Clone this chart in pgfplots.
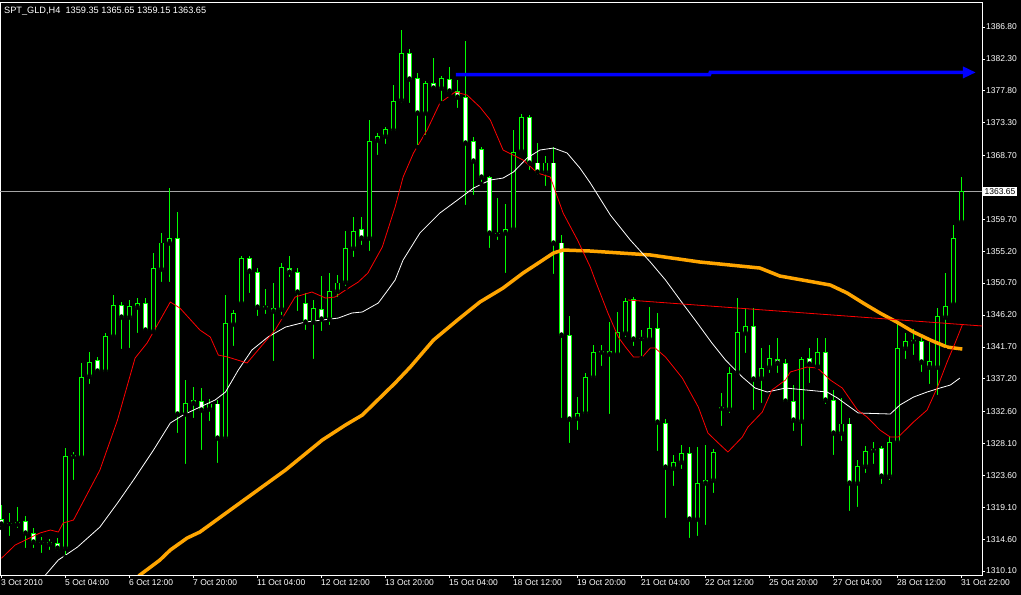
\documentclass[border=0pt]{standalone}
\usepackage{fontspec}
\setmainfont{Liberation Sans}
\usepackage{pgfplots}
\pgfplotsset{compat=1.18}
\usepackage{pgfplotstable}
\usetikzlibrary{arrows.meta}

\definecolor{mtgreen}{RGB}{0,255,0}
\definecolor{mtorange}{RGB}{255,165,0}
\definecolor{mtgray}{RGB}{165,165,165}

% H4 bars: index, open, high, low, close
\pgfplotstableread{
k o h l c
0 1317.43 1319.40 1316.16 1316.73
1 1316.87 1318.28 1314.75 1316.80
2 1317.01 1319.12 1315.88 1316.73
3 1317.15 1317.85 1313.06 1315.46
4 1315.46 1316.16 1313.06 1314.19
5 1314.19 1314.89 1312.35 1314.19
6 1314.19 1314.61 1312.78 1313.91
7 1314.05 1314.75 1312.64 1313.34
8 1313.34 1327.44 1312.07 1326.31
9 1326.31 1326.88 1322.65 1326.40
10 1326.17 1339.43 1326.10 1337.45
11 1337.59 1340.98 1336.18 1339.57
12 1339.85 1340.27 1338.16 1338.30
13 1338.30 1343.66 1338.02 1343.23
14 1343.23 1349.01 1343.09 1347.60
15 1347.60 1348.03 1341.12 1345.91
16 1345.91 1348.31 1341.26 1347.46
17 1347.32 1348.59 1343.37 1347.89
18 1347.89 1348.59 1343.94 1344.08
19 1343.94 1354.94 1343.80 1352.82
20 1352.68 1357.76 1350.57 1356.35
21 1356.35 1364.10 1350.57 1357.05
22 1357.05 1360.72 1329.27 1332.24
23 1332.24 1337.03 1324.90 1333.79
24 1333.79 1336.04 1331.39 1334.21
25 1334.07 1335.90 1326.88 1332.80
26 1332.94 1334.35 1330.97 1333.65
27 1333.65 1334.21 1325.04 1328.85
28 1328.85 1349.01 1328.29 1344.93
29 1344.93 1346.90 1341.54 1346.34
30 1347.89 1354.51 1347.70 1354.23
31 1354.23 1354.51 1349.01 1352.40
32 1352.26 1352.82 1345.77 1347.32
33 1347.32 1349.86 1346.05 1347.40
34 1347.18 1350.71 1339.43 1346.76
35 1347.04 1353.53 1345.91 1352.96
36 1352.82 1354.51 1351.27 1352.26
37 1352.26 1352.82 1346.48 1349.44
38 1347.89 1349.30 1343.80 1345.21
39 1345.21 1348.31 1339.71 1347.18
40 1347.04 1351.69 1343.66 1345.63
41 1345.63 1352.12 1344.50 1349.58
42 1349.58 1351.83 1348.45 1350.71
43 1350.85 1358.04 1350.00 1355.64
44 1355.64 1360.01 1354.09 1358.04
45 1358.32 1360.01 1355.78 1357.05
46 1357.05 1373.69 1354.94 1370.73
47 1370.87 1371.86 1368.47 1371.43
48 1371.43 1372.70 1370.02 1372.42
49 1372.28 1378.62 1371.86 1376.37
50 1376.51 1386.38 1375.80 1383.00
51 1383.00 1383.70 1375.80 1379.47
52 1379.61 1380.32 1369.88 1374.68
53 1374.68 1379.19 1371.29 1378.77
54 1378.77 1382.43 1378.10 1378.20
55 1378.20 1379.89 1376.09 1379.61
56 1379.47 1381.16 1377.21 1377.78
57 1377.78 1379.33 1375.10 1376.93
58 1376.93 1384.83 1361.42 1370.45
59 1370.73 1371.29 1362.83 1367.91
60 1369.60 1369.88 1364.67 1365.65
61 1365.65 1365.79 1355.36 1357.76
62 1357.62 1362.69 1356.49 1357.70
63 1357.76 1361.85 1351.83 1358.32
64 1358.32 1372.28 1357.76 1369.18
65 1369.32 1374.54 1369.18 1374.11
66 1374.11 1374.39 1366.36 1367.63
67 1367.63 1370.45 1365.65 1366.36
68 1366.36 1368.61 1364.10 1367.63
69 1367.63 1369.88 1351.69 1356.35
70 1356.35 1357.47 1331.39 1343.37
71 1343.37 1346.05 1327.86 1331.53
72 1331.67 1334.63 1329.70 1332.38
73 1332.38 1338.02 1331.81 1337.45
74 1337.45 1341.96 1336.89 1340.98
75 1340.98 1341.96 1338.72 1341.05
76 1341.12 1345.21 1331.95 1340.70
77 1340.70 1346.62 1340.55 1343.80
78 1343.66 1348.59 1342.81 1348.17
79 1348.45 1348.73 1341.54 1342.81
80 1342.95 1344.08 1340.13 1342.90
81 1342.81 1347.32 1342.67 1344.36
82 1344.36 1346.48 1326.74 1331.11
83 1330.97 1331.53 1317.29 1324.76
84 1324.62 1326.45 1321.80 1325.47
85 1325.47 1327.86 1324.20 1326.74
86 1326.74 1327.58 1314.47 1317.43
87 1317.43 1327.58 1314.75 1322.51
88 1322.51 1327.86 1316.30 1322.93
89 1322.93 1327.30 1320.81 1326.88
90 1333.08 1335.20 1330.26 1333.10
91 1332.94 1338.86 1332.09 1338.02
92 1338.16 1348.59 1337.73 1343.80
93 1343.66 1347.18 1340.55 1344.64
94 1344.64 1347.18 1332.52 1337.17
95 1337.31 1341.54 1333.50 1338.72
96 1338.86 1341.96 1337.73 1340.13
97 1339.99 1342.95 1337.73 1339.43
98 1339.43 1339.99 1333.79 1334.07
99 1334.07 1336.32 1329.56 1331.39
100 1331.25 1340.27 1327.44 1339.99
101 1340.13 1341.54 1336.32 1339.29
102 1339.00 1342.95 1338.86 1340.98
103 1340.98 1342.95 1333.36 1334.21
104 1334.21 1335.62 1326.17 1329.56
105 1329.56 1334.49 1328.15 1330.83
106 1330.83 1331.67 1318.28 1322.51
107 1322.51 1325.75 1318.84 1324.90
108 1324.90 1327.72 1323.63 1327.02
109 1327.16 1328.29 1324.90 1327.20
110 1327.44 1327.72 1322.08 1323.49
111 1323.49 1329.13 1322.65 1328.29
112 1328.29 1345.21 1328.15 1341.54
113 1341.54 1343.66 1339.71 1342.53
114 1342.53 1344.22 1340.27 1342.56
115 1342.53 1342.95 1337.88 1339.57
116 1338.86 1342.39 1336.18 1339.71
117 1338.86 1347.18 1334.63 1346.05
118 1345.91 1352.12 1341.26 1347.46
119 1347.75 1358.88 1347.32 1357.05
120 1359.35 1365.65 1359.15 1363.65
}\bars

\begin{document}
\begin{tikzpicture}
\useasboundingbox (0,0) rectangle (1021bp,595bp);
\fill[black] (0,0) rectangle (1021bp,595bp);
\begin{axis}[
  at={(0,20bp)}, anchor=south west,
  width=982bp, height=573bp, scale only axis,
  xmin=-0.1875, xmax=122.5625,
  ymin=1309.54, ymax=1390.33,
  axis line style={white, line width=0.8bp},
  tick style={white, line width=0.8bp},
  tick align=outside, major tick length=3bp,
  ytick pos=right, yticklabel pos=right,
  xtick pos=bottom,
  /pgf/number format/fixed, /pgf/number format/fixed zerofill,
  /pgf/number format/precision=2, /pgf/number format/1000 sep={},
  /pgf/number format/assume math mode=true,
  ytick={1310.10,1314.60,1319.10,1323.60,1328.10,1332.60,1337.20,1341.70,1346.20,1350.70,1355.20,1359.70,1368.70,1373.30,1377.80,1382.30,1386.80},
  yticklabel style={text=white, font=\fontsize{8.5bp}{10bp}\selectfont,
    anchor=west, inner sep=1bp},
  extra y ticks={1363.65},
  extra y tick style={major tick length=0pt,
    yticklabel style={fill=white, text=black, inner sep=1.5bp, xshift=1bp}},
  xtick={0,8,...,120},
  xticklabels={3 Oct 2010,5 Oct 04:00,6 Oct 12:00,7 Oct 20:00,11 Oct 04:00,12 Oct 12:00,13 Oct 20:00,15 Oct 04:00,18 Oct 12:00,19 Oct 20:00,21 Oct 04:00,22 Oct 12:00,25 Oct 20:00,27 Oct 04:00,28 Oct 12:00,31 Oct 22:00},
  xticklabel style={text=white, font=\fontsize{8.5bp}{10bp}\selectfont,
    anchor=north west, xshift=-2bp, inner sep=1.5bp},
  % one segment per bar: drawn upward from y by the error value
  candle/.style 2 args={only marks, mark=none, forget plot,
    error bars/.cd, y dir=plus, y explicit, error mark=none,
    error bar style={line width=#1, color=#2}},
]
% last price line
\addplot[mtgray, line width=0.8bp] coordinates {(-1,1363.65) (124,1363.65)};

% wicks
\addplot[candle={1bp}{mtgreen}]
  table[x=k, y=l, y error expr={\thisrow{h}-\thisrow{l}}] {\bars};
% body outlines
\addplot[candle={5bp}{mtgreen}]
  table[x=k, y expr={min(\thisrow{o},\thisrow{c})-0.07}, y error expr={abs(\thisrow{c}-\thisrow{o})+0.14}] {\bars};
% bear bodies (white)
\addplot[candle={3bp}{white}]
  table[x=k, y expr={\thisrow{o}-\thisrow{c} > 0.15 ? \thisrow{c}+0.07 : nan},
    y error expr={abs(\thisrow{o}-\thisrow{c})-0.14}] {\bars};
% bull bodies (black)
\addplot[candle={3bp}{black}]
  table[x=k, y expr={\thisrow{c}-\thisrow{o} > 0.15 ? \thisrow{o}+0.07 : nan},
    y error expr={abs(\thisrow{c}-\thisrow{o})-0.14}] {\bars};

% slow MA
\addplot[mtorange, line width=3.5bp] coordinates {
(15.5,1307.5) (17.3,1309.54) (19.8,1311.65) (21.1,1313.06) (23.2,1314.75) (24.8,1315.60) (29.8,1319.69)
(35.5,1324.34) (40.1,1328.57) (43.0,1330.69) (45.1,1332.09) (49.2,1336.61) (51.1,1338.86) (54.0,1342.67)
(57.0,1345.49) (59.8,1348.03) (62.7,1350.00) (65.2,1352.12) (67.3,1353.67) (69.0,1354.94) (70.2,1355.36)
(73.6,1355.22) (81.1,1354.66) (87.3,1353.67) (94.8,1352.82) (97.3,1351.69) (101.5,1350.85) (103.6,1350.42)
(105.7,1349.30) (107.7,1347.89) (109.8,1346.48) (111.9,1345.21) (114.0,1343.80) (116.1,1342.67)
(118.2,1341.68) (120.1,1341.40)};

% medium MA
\addplot[white, line width=0.8bp] coordinates {
(5.5,1309.54) (7.1,1311.65) (9.5,1313.48) (12.3,1316.30) (14.5,1319.69) (16.5,1322.93) (19.0,1327.16)
(21.1,1330.97) (22.7,1332.09) (24.8,1333.22) (26.7,1334.21) (28.0,1335.34) (29.6,1338.44) (31.3,1341.26)
(33.3,1343.09) (35.5,1344.50) (38.0,1345.21) (40.1,1345.49) (42.1,1345.77) (43.8,1346.48) (45.1,1346.62)
(47.1,1347.89) (48.3,1349.72) (49.2,1351.13) (50.2,1353.95) (52.3,1357.76) (54.8,1360.58) (57.0,1362.41)
(59.0,1364.10) (61.1,1365.23) (62.7,1365.51) (64.0,1366.36) (65.7,1368.33) (67.3,1369.46) (69.0,1369.74)
(70.7,1369.04) (72.3,1366.92) (73.6,1364.81) (76.1,1360.30) (78.6,1356.77) (81.1,1353.67) (83.0,1351.13)
(85.1,1347.89) (86.7,1345.49) (88.8,1342.25) (90.5,1339.85) (92.6,1337.45) (94.2,1335.90) (95.7,1335.34)
(98.0,1335.90) (103.2,1335.34) (104.5,1334.49) (105.7,1333.51) (107.1,1332.38) (111.1,1332.24)
(112.3,1333.51) (114.0,1334.63) (115.7,1335.34) (117.3,1335.90) (118.6,1336.32) (119.8,1337.31)};

% fast MA
\addplot[red, line width=0.8bp] coordinates {
(0,1311.9) (1.7,1313.76) (4.8,1315.46) (6.1,1315.88) (7.1,1315.60) (7.7,1316.87) (9.0,1317.29)
(12.3,1324.34) (14.5,1331.39) (16.7,1340.13) (18.2,1342.25) (21.1,1348.03) (22.3,1347.18) (24.8,1344.08)
(26.1,1343.09) (27.1,1340.55) (28.3,1340.27) (30.7,1339.43) (32.6,1341.96) (34.2,1344.08) (36.7,1348.73)
(38.8,1349.44) (40.5,1348.59) (41.7,1348.73) (43.0,1349.72) (44.6,1350.85) (45.8,1352.12) (47.6,1355.78)
(49.2,1361.42) (50.2,1365.65) (51.5,1369.04) (53.2,1372.28) (54.8,1376.09) (56.7,1377.64) (58.2,1377.21)
(59.8,1375.52) (61.1,1373.69) (62.7,1369.46) (65.2,1368.05) (67.0,1366.22) (68.6,1365.65) (70.2,1360.58)
(72.0,1356.77) (73.6,1352.96) (74.2,1351.13) (75.8,1346.48) (77.1,1343.09) (78.0,1341.68) (79.0,1340.27)
(80.1,1340.27) (81.1,1341.54) (81.7,1341.54) (83.0,1340.27) (85.1,1337.31) (87.1,1333.22) (88.3,1329.56)
(89.6,1328.15) (90.8,1326.88) (92.6,1328.99) (93.3,1330.40) (95.1,1332.52) (96.3,1335.62) (98.0,1337.03)
(98.6,1338.16) (100.7,1338.86) (102.0,1338.72) (103.6,1337.03) (105.1,1335.90) (107.0,1332.80)
(108.2,1331.81) (109.8,1329.98) (111.1,1328.99) (112.1,1328.99) (114.0,1331.11) (115.7,1332.80)
(117.0,1336.04) (118.2,1339.57) (119.2,1342.25) (120.1,1344.79)};

% trend line
\addplot[red, line width=0.8bp] coordinates {(78.3,1348.31) (122.7,1344.64)};

% target arrow
\addplot[blue, line width=3.5bp, -{Triangle[length=13bp, width=11bp]}] coordinates {
(56.8,1380.10) (88.5,1380.10) (88.6,1380.40) (121.8,1380.40)};

\node[anchor=north west, text=white, inner sep=0pt, xshift=4bp, yshift=-5bp,
  font=\fontsize{9.2bp}{10bp}\selectfont] at (rel axis cs:0,1)
  {SPT\_GLD,H4\ \ 1359.35 1365.65 1359.15 1363.65};
\end{axis}
\end{tikzpicture}
\end{document}
